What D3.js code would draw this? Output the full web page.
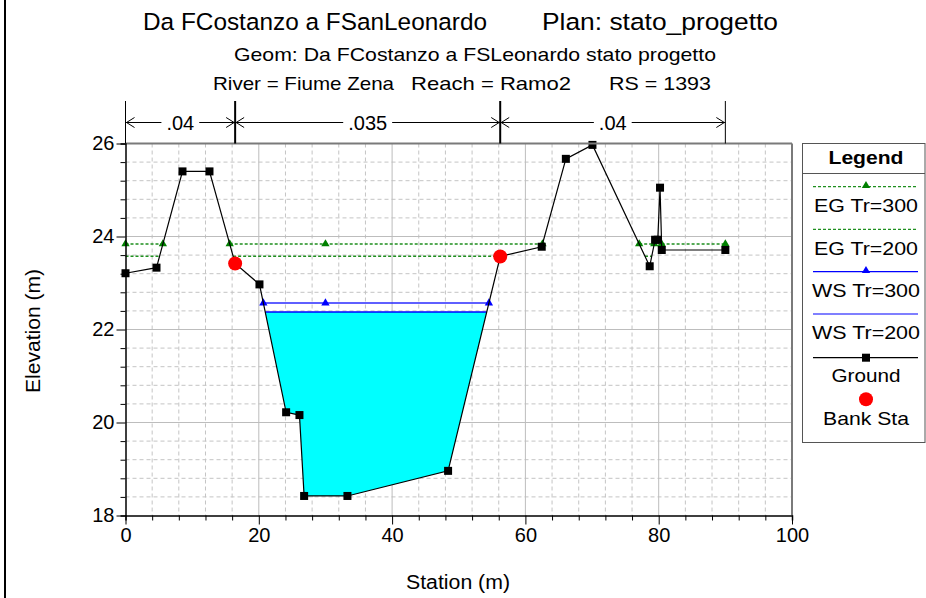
<!DOCTYPE html>
<html>
<head>
<meta charset="utf-8">
<script src="https://cdn.jsdelivr.net/npm/d3@7"></script>
<style>
  body { margin: 0; background: #fff; }
  text { font-family: "Liberation Sans", Arial, sans-serif; fill: #000; }
</style>
</head>
<body>
<svg width="926" height="598"></svg>
<script>
// ground profile (station m, elevation m)
const groundSta  = [0, 4.65, 8.55, 12.6, 16.45, 20.1, 24.1, 26.1, 26.8, 33.3, 48.4, 56.22, 62.45, 66.07, 70.06, 78.65, 79.46, 79.86, 80.2, 80.46, 90];
const groundElev = [23.21, 23.33, 25.40, 25.40, 23.42, 22.97, 20.22, 20.16, 18.42, 18.42, 18.96, 23.57, 23.78, 25.67, 25.97, 23.36, 23.93, 23.93, 25.05, 23.71, 23.71];
const bankSta = [16.45, 56.22];

// water levels
const egTr300 = 23.84;
const egTr200 = 23.575;
const wsTr300 = 22.57;
const wsTr200 = 22.375;
const extraMarkerSta = [30];

// manning n
const nBreaks = [0, 16.45, 56.22, 90];
const nValues = [".04", ".035", ".04"];

const xTicks = [0, 20, 40, 60, 80, 100];
const yTicks = [18, 20, 22, 24, 26];

const legendItems = ["EG Tr=300", "EG Tr=200", "WS Tr=300", "WS Tr=200", "Ground", "Bank Sta"];

const svg = d3.select("svg");
const x = d3.scaleLinear().domain([0, 100]).range([125.5, 792]);
const y = d3.scaleLinear().domain([18, 26]).range([515.5, 143.5]);

const ground = groundSta.map((s, i) => ({ s: s, e: groundElev[i] }));
const groundAt = s => {
  const i = d3.bisector(d => d.s).right(ground, s);
  if (i <= 0) return ground[0].e;
  if (i >= ground.length) return ground[ground.length - 1].e;
  const a = ground[i - 1], b = ground[i];
  return a.e + (s - a.s) / (b.s - a.s) * (b.e - a.e);
};

// stretches where ground is below a level
function wetSegments(level) {
  const segs = [];
  let start = ground[0].e < level ? ground[0].s : null;
  for (let i = 1; i < ground.length; i++) {
    const a = ground[i - 1], b = ground[i];
    if ((a.e < level) !== (b.e < level)) {
      const sx = a.s + (level - a.e) / (b.e - a.e) * (b.s - a.s);
      if (start === null) start = sx;
      else { segs.push([start, sx]); start = null; }
    }
  }
  if (start !== null) segs.push([start, ground[ground.length - 1].s]);
  return segs;
}

function label(px, py, str, size, len) {
  const t = svg.append("text").attr("x", px).attr("y", py).style("font-size", size + "px").text(str);
  if (len) t.attr("textLength", len).attr("lengthAdjust", "spacingAndGlyphs");
  return t;
}

// outer frame line on the left
svg.append("line")
  .attr("x1", 5).attr("x2", 5).attr("y1", 0).attr("y2", 598)
  .attr("stroke", "#000").attr("stroke-width", 2);

// titles
label(143, 30, "Da FCostanzo a FSanLeonardo", 24.5, 344);
label(542, 30, "Plan: stato_progetto", 24.5, 236);
label(234, 61, "Geom: Da FCostanzo a FSLeonardo stato progetto", 19, 482);
label(213, 90, "River = Fiume Zena", 19, 181);
label(411, 90, "Reach = Ramo2", 19, 160);
label(609, 90, "RS = 1393", 19, 102);

// grid
const grid = svg.append("g");
grid.selectAll(".vminor").data(d3.range(4, 100, 4).filter(v => v % 20 !== 0))
  .enter().append("line")
  .attr("x1", d => x(d)).attr("x2", d => x(d)).attr("y1", y(26)).attr("y2", y(18))
  .attr("stroke", "#c4c4c4").attr("stroke-dasharray", "4,3");
grid.selectAll(".hminor").data(d3.range(0, 20).map(i => 18 + i * 0.4).filter((v, i) => i % 5 !== 0))
  .enter().append("line")
  .attr("x1", x(0)).attr("x2", x(100)).attr("y1", d => y(d)).attr("y2", d => y(d))
  .attr("stroke", "#c4c4c4").attr("stroke-dasharray", "4,3");
grid.selectAll(".vmajor").data([20, 40, 60, 80])
  .enter().append("line")
  .attr("x1", d => x(d)).attr("x2", d => x(d)).attr("y1", y(26)).attr("y2", y(18))
  .attr("stroke", "#bdbdbd");
grid.selectAll(".hmajor").data([20, 22, 24])
  .enter().append("line")
  .attr("x1", x(0)).attr("x2", x(100)).attr("y1", d => y(d)).attr("y2", d => y(d))
  .attr("stroke", "#bdbdbd");

// water fill for WS Tr=200
const wsSeg = wetSegments(wsTr200)[0];
const fillPts = [{ s: wsSeg[0], e: wsTr200 }]
  .concat(ground.filter(d => d.s > wsSeg[0] && d.s < wsSeg[1]))
  .concat([{ s: wsSeg[1], e: wsTr200 }]);
svg.append("path")
  .datum(fillPts)
  .attr("fill", "#00ffff")
  .attr("d", d3.line().x(d => x(d.s)).y(d => y(d.e)).curve(d3.curveLinearClosed));

// level lines
function levelLine(level, color, width, dash) {
  wetSegments(level).forEach(seg => {
    svg.append("line")
      .attr("x1", x(seg[0])).attr("x2", x(seg[1]))
      .attr("y1", y(level)).attr("y2", y(level))
      .attr("stroke", color).attr("stroke-width", width)
      .attr("stroke-dasharray", dash);
  });
}
function levelMarkers(level, color) {
  let stations = [];
  wetSegments(level).forEach(seg => stations.push(seg[0], seg[1]));
  extraMarkerSta.forEach(s => { if (groundAt(s) < level) stations.push(s); });
  svg.selectAll(null).data(stations).enter().append("path")
    .attr("transform", d => `translate(${x(d)},${y(level)})`)
    .attr("d", d3.symbol(d3.symbolTriangle, 30))
    .attr("fill", color);
}
levelLine(egTr200, "#1f8f1f", 1.5, "3,2");
levelLine(egTr300, "#1f8f1f", 1.5, "3,2");
levelLine(wsTr300, "#2a2aff", 1.5, null);
levelLine(wsTr200, "#0000ff", 1.5, null);
levelMarkers(egTr300, "#008000");
levelMarkers(wsTr300, "#0000ff");

// ground
svg.append("path")
  .datum(ground)
  .attr("fill", "none").attr("stroke", "#000").attr("stroke-width", 1.2)
  .attr("d", d3.line().x(d => x(d.s)).y(d => y(d.e)));
svg.selectAll(".gpt").data(ground.filter(d => !bankSta.includes(d.s)))
  .enter().append("rect")
  .attr("x", d => x(d.s) - 4).attr("y", d => y(d.e) - 4)
  .attr("width", 8).attr("height", 8).attr("fill", "#000");
svg.selectAll(".bank").data(bankSta)
  .enter().append("circle")
  .attr("cx", d => x(d)).attr("cy", d => y(groundAt(d)))
  .attr("r", 7).attr("fill", "#ff0000");

// frame
svg.append("line").attr("x1", x(0)).attr("x2", x(100)).attr("y1", y(26)).attr("y2", y(26))
  .attr("stroke", "#7a7a7a").attr("stroke-width", 2);
svg.append("line").attr("x1", x(100)).attr("x2", x(100)).attr("y1", y(26)).attr("y2", y(18))
  .attr("stroke", "#7a7a7a").attr("stroke-width", 2);

// axes
const xAxis = svg.append("g").attr("transform", `translate(0,${y(18)})`);
xAxis.call(d3.axisBottom(x).tickValues(d3.range(0, 101, 4)).tickSize(5).tickFormat(""));
xAxis.call(g => g.selectAll(".tick").filter(d => d % 20 === 0).select("line").attr("y2", 9));
xAxis.select(".domain").attr("stroke-width", 1.5);
const xLab = svg.append("g").attr("transform", `translate(0,${y(18)})`)
  .call(d3.axisBottom(x).tickValues(xTicks).tickSize(0).tickPadding(12));
xLab.select(".domain").remove();
xLab.selectAll("text").style("font-size", "20px").attr("fill", "#000")
  .style("font-family", "Liberation Sans, Arial, sans-serif");

const yAxis = svg.append("g").attr("transform", `translate(${x(0)},0)`);
yAxis.call(d3.axisLeft(y).tickValues(d3.range(0, 21).map(i => 18 + i * 0.4)).tickSize(5).tickFormat(""));
yAxis.call(g => g.selectAll(".tick").filter(d => Math.abs(d - Math.round(d)) < 1e-6 && Math.round(d) % 2 === 0).select("line").attr("x2", -9));
yAxis.select(".domain").attr("stroke-width", 1.5);
const yLab = svg.append("g").attr("transform", `translate(${x(0)},0)`)
  .call(d3.axisLeft(y).tickValues(yTicks).tickSize(0).tickPadding(11));
yLab.select(".domain").remove();
yLab.selectAll("text").style("font-size", "20px").attr("fill", "#000")
  .style("font-family", "Liberation Sans, Arial, sans-serif");

// axis titles
svg.append("text").attr("x", 458).attr("y", 589).attr("text-anchor", "middle")
  .style("font-size", "20px").attr("textLength", 104).attr("lengthAdjust", "spacingAndGlyphs")
  .text("Station (m)");
svg.append("text").attr("transform", "translate(40,331) rotate(-90)").attr("text-anchor", "middle")
  .style("font-size", "20px").attr("textLength", 124).attr("lengthAdjust", "spacingAndGlyphs")
  .text("Elevation (m)");

// manning n bands
const nTop = 101, nY = 122.5;
nBreaks.forEach((s, i) => {
  svg.append("line").attr("x1", x(s)).attr("x2", x(s)).attr("y1", nTop).attr("y2", y(26))
    .attr("stroke", "#000").attr("stroke-width", bankSta.includes(s) ? 2 : 1);
});
nValues.forEach((v, i) => {
  const a = x(nBreaks[i]), b = x(nBreaks[i + 1]);
  svg.append("line").attr("x1", a).attr("x2", b).attr("y1", nY).attr("y2", nY).attr("stroke", "#000");
  const t = svg.append("text").attr("x", (a + b) / 2).attr("y", nY + 7).attr("text-anchor", "middle")
    .style("font-size", "20px").text(v);
  const w = t.node().getComputedTextLength();
  svg.insert("rect", () => t.node()).attr("x", (a + b) / 2 - w / 2 - 5).attr("y", nY - 4)
    .attr("width", w + 10).attr("height", 8).attr("fill", "#fff");
  // open arrow heads
  [[a, 1], [b, -1]].forEach(([px, dir]) => {
    svg.append("path")
      .attr("d", `M${px + dir * 9},${nY - 5}L${px + dir},${nY}L${px + dir * 9},${nY + 5}`)
      .attr("fill", "none").attr("stroke", "#000");
  });
});

// legend
const lg = svg.append("g");
const lx0 = 802.5, lx1 = 925, lcx = 866;
lg.append("rect").attr("x", lx0).attr("y", 143.5).attr("width", lx1 - lx0).attr("height", 299)
  .attr("fill", "#fff").attr("stroke", "#555");
lg.append("line").attr("x1", lx0).attr("x2", lx1).attr("y1", 173.5).attr("y2", 173.5).attr("stroke", "#555");
lg.append("text").attr("x", lcx).attr("y", 164).attr("text-anchor", "middle")
  .style("font-size", "19px").style("font-weight", "bold")
  .attr("textLength", 75).attr("lengthAdjust", "spacingAndGlyphs").text("Legend");
const rowLine = [186.7, 229.3, 271.7, 314, 357.7, 399.3];
const rowText = [211.7, 255, 297.3, 339.3, 382.3, 425];
const rowWidth = [104, 104, 108, 108, 69, 86];
legendItems.forEach((name, i) => {
  const ly = rowLine[i];
  if (i < 5) {
    const color = i < 2 ? "#1f8f1f" : (i < 4 ? "#0000ff" : "#000");
    lg.append("line").attr("x1", 813).attr("x2", 918).attr("y1", ly).attr("y2", ly)
      .attr("stroke", color).attr("stroke-width", i < 2 ? 1.3 : 1.2)
      .attr("stroke-dasharray", i < 2 ? "3,2" : null);
  }
  if (i === 0 || i === 2) {
    lg.append("path").attr("transform", `translate(${lcx},${ly - 1})`)
      .attr("d", d3.symbol(d3.symbolTriangle, 30)).attr("fill", i === 0 ? "#008000" : "#0000ff");
  }
  if (i === 4) lg.append("rect").attr("x", lcx - 4).attr("y", ly - 4).attr("width", 8).attr("height", 8);
  if (i === 5) lg.append("circle").attr("cx", lcx).attr("cy", ly).attr("r", 7).attr("fill", "#ff0000");
  lg.append("text").attr("x", lcx).attr("y", rowText[i]).attr("text-anchor", "middle")
    .style("font-size", "19px").attr("textLength", rowWidth[i]).attr("lengthAdjust", "spacingAndGlyphs")
    .text(name);
});
</script>
</body>
</html>
